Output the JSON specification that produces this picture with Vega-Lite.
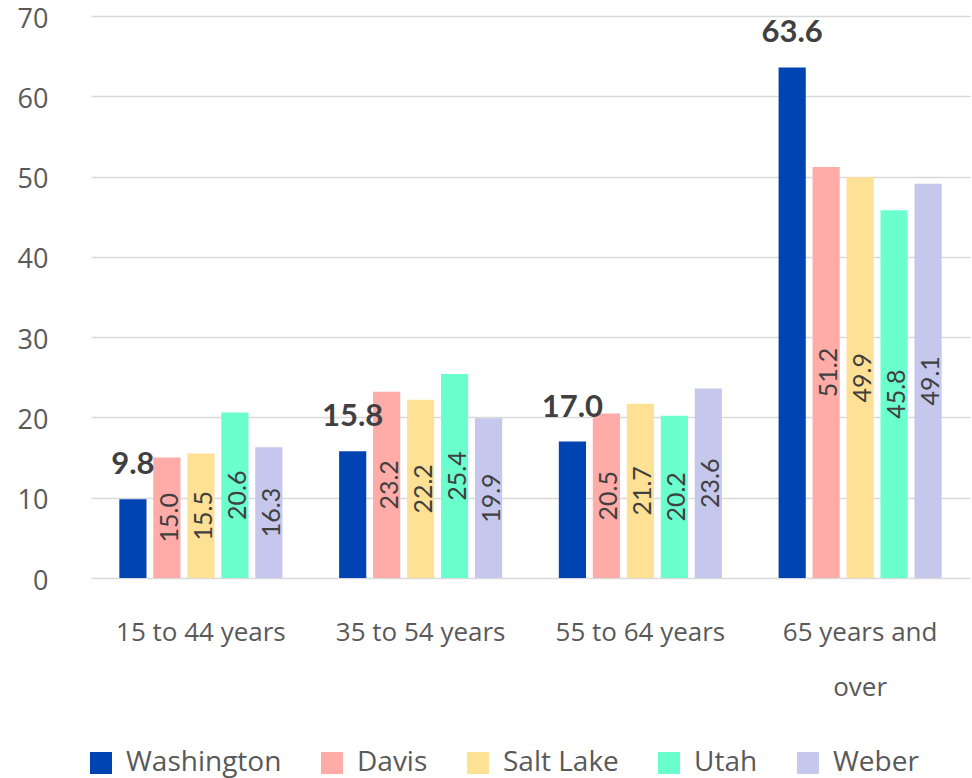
{
  "$schema": "https://vega.github.io/schema/vega-lite/v6.json",
  "autosize": {"type": "none"},
  "padding": {"left": 91, "top": 16, "right": 2, "bottom": 200},
  "width": 879,
  "height": 562,
  "background": "white",
  "config": {
    "view": {"stroke": null},
    "font": "Open Sans",
    "axis": {"labelFont": "Open Sans", "titleFont": "Open Sans"},
    "legend": {"labelFont": "Open Sans"}
  },
  "data": {
    "values": [
      {"age": "15 to 44 years", "county": "Washington", "value": 9.8},
      {"age": "15 to 44 years", "county": "Davis", "value": 15.0},
      {"age": "15 to 44 years", "county": "Salt Lake", "value": 15.5},
      {"age": "15 to 44 years", "county": "Utah", "value": 20.6},
      {"age": "15 to 44 years", "county": "Weber", "value": 16.3},
      {"age": "35 to 54 years", "county": "Washington", "value": 15.8},
      {"age": "35 to 54 years", "county": "Davis", "value": 23.2},
      {"age": "35 to 54 years", "county": "Salt Lake", "value": 22.2},
      {"age": "35 to 54 years", "county": "Utah", "value": 25.4},
      {"age": "35 to 54 years", "county": "Weber", "value": 19.9},
      {"age": "55 to 64 years", "county": "Washington", "value": 17.0},
      {"age": "55 to 64 years", "county": "Davis", "value": 20.5},
      {"age": "55 to 64 years", "county": "Salt Lake", "value": 21.7},
      {"age": "55 to 64 years", "county": "Utah", "value": 20.2},
      {"age": "55 to 64 years", "county": "Weber", "value": 23.6},
      {"age": "65 years and over", "county": "Washington", "value": 63.6},
      {"age": "65 years and over", "county": "Davis", "value": 51.2},
      {"age": "65 years and over", "county": "Salt Lake", "value": 49.9},
      {"age": "65 years and over", "county": "Utah", "value": 45.8},
      {"age": "65 years and over", "county": "Weber", "value": 49.1}
    ]
  },
  "encoding": {
    "x": {
      "field": "age",
      "type": "nominal",
      "sort": null,
      "scale": {"paddingInner": 0.227, "paddingOuter": 0.1135},
      "axis": {
        "title": null,
        "domain": false,
        "ticks": false,
        "labelAngle": 0,
        "labelPadding": 41,
        "labelFontSize": 26,
        "labelColor": "#595959",
        "labelBaseline": "top",
        "labelLineHeight": 55,
        "labelExpr": "datum.label == '65 years and over' ? ['65 years and', 'over'] : datum.label"
      }
    },
    "xOffset": {
      "field": "county",
      "type": "nominal",
      "sort": ["Washington", "Davis", "Salt Lake", "Utah", "Weber"],
      "scale": {"paddingInner": 0.2, "paddingOuter": 0.1}
    }
  },
  "layer": [
    {
      "layer": [
        {
          "mark": {"type": "bar"},
          "encoding": {
            "y": {
              "field": "value",
              "type": "quantitative",
              "scale": {"domain": [0, 70], "nice": false},
              "axis": {
                "title": null,
                "values": [0, 10, 20, 30, 40, 50, 60, 70],
                "domain": false,
                "ticks": false,
                "labelPadding": 43,
                "labelFontSize": 27,
                "labelColor": "#595959",
                "labelOffset": 3,
                "gridColor": "#d9d9d9",
                "gridWidth": 1.5
              }
            },
            "color": {
              "field": "county",
              "type": "nominal",
              "sort": ["Washington", "Davis", "Salt Lake", "Utah", "Weber"],
              "scale": {
                "domain": ["Washington", "Davis", "Salt Lake", "Utah", "Weber"],
                "range": ["#0044B4", "#FFABA8", "#FFE196", "#6CFFCE", "#C5C8EC"]
              },
              "legend": {
                "title": null,
                "orient": "none",
                "direction": "horizontal",
                "legendX": -4,
                "legendY": 733,
                "symbolType": "square",
                "symbolSize": 484,
                "symbolStrokeWidth": 0,
                "labelFontSize": 28,
                "labelColor": "#595959",
                "labelOffset": 11,
                "columnPadding": 36
              }
            }
          }
        },
        {
          "transform": [{"filter": "datum.county == 'Washington'"}],
          "mark": {
            "type": "text",
            "font": "Lato",
            "baseline": "alphabetic",
            "dy": -25,
            "fontSize": 31,
            "fontWeight": "bold",
            "color": "#404040"
          },
          "encoding": {
            "y": {"field": "value", "type": "quantitative"},
            "text": {"field": "value", "type": "quantitative", "format": ".1f"}
          }
        }
      ]
    },
    {
      "transform": [{"filter": "datum.county != 'Washington'"}],
      "mark": {
        "type": "text",
        "font": "Lato",
        "angle": 270,
        "align": "center",
        "baseline": "middle",
        "dy": 3,
        "fontSize": 25,
        "color": "#404040"
      },
      "encoding": {
        "y": {
          "field": "value",
          "type": "quantitative",
          "scale": {"domain": [0, 140], "nice": false},
          "axis": null
        },
        "text": {"field": "value", "type": "quantitative", "format": ".1f"}
      }
    }
  ],
  "resolve": {"scale": {"y": "independent"}}
}
